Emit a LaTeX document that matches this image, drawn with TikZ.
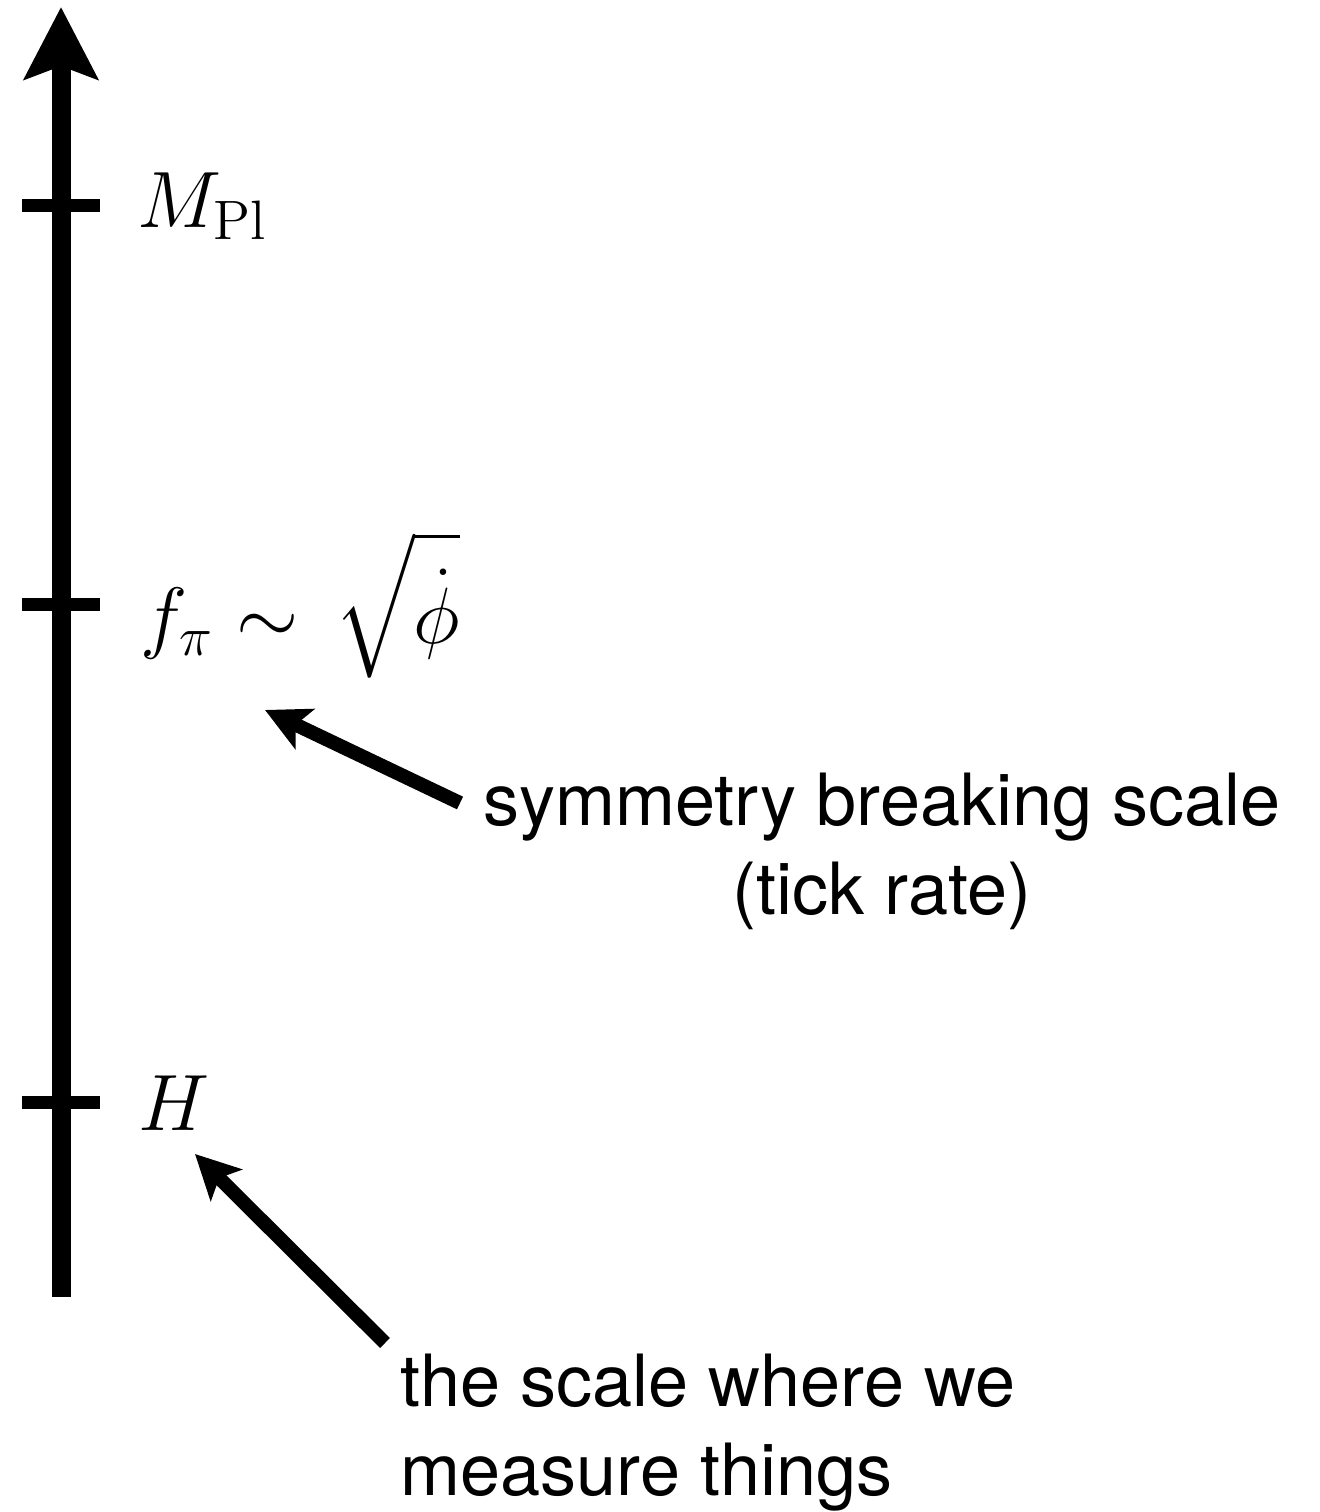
\documentclass[tikz,border=0pt]{standalone}
\usepackage{graphicx}
\usepackage{exscale}
\usepackage[no-math]{fontspec}
\setmainfont{TeX Gyre Heros}
\usetikzlibrary{arrows.meta}
\newcommand{\biglabel}[1]{\scalebox{1.097}{$\displaystyle #1$}}
\begin{document}
\begin{tikzpicture}[
  scaletick/.style={line width=0.13cm},
  pointer/.style={line width=0.14cm,-{Stealth[length=0.44cm,width=0.44cm,inset=0.1cm]}},
  mathlabel/.style={anchor=west,inner sep=0pt,font=\fontsize{20.74}{25}\selectfont},
  note/.style={inner sep=0pt,font=\fontsize{20.5}{25.6}\selectfont}]
  \useasboundingbox (0,0) rectangle (13.2,15.12);
  % energy axis
  \draw[line width=0.19cm,-{Stealth[length=0.72cm,width=0.73cm,inset=0.13cm]}] (0.61,2.15) -- (0.61,15.05);
  \draw[scaletick] (0.22,13.06) -- (1.00,13.06);
  \draw[scaletick] (0.22,9.07) -- (1.00,9.07);
  \draw[scaletick] (0.22,4.09) -- (1.00,4.09);
  \node[mathlabel] (mpl) at (1.37,13.06) {\biglabel{M_{\mathrm{Pl}}}};
  \node[mathlabel] (fpi) at (1.40,9.07) {\biglabel{f_\pi \sim \,\sqrt{\dot\phi}}};
  \node[mathlabel] (hub) at (1.38,4.09) {\biglabel{H}};
  % explanations (base = last line)
  \node[note,align=center,anchor=base] (sbs) at (8.82,5.97) {symmetry breaking scale\\(tick rate)};
  \node[note,align=left,anchor=base west] (msr) at (4.00,0.16) {the scale where we\\measure things};
  \coordinate (sbstail) at (4.60,7.09);
  \coordinate (fpitip) at (2.65,8.02);
  \coordinate (msrtail) at (3.85,1.69);
  \coordinate (hubtip) at (1.95,3.58);
  \draw[pointer] (sbstail) -- (fpitip);
  \draw[pointer] (msrtail) -- (hubtip);
\end{tikzpicture}
\end{document}
